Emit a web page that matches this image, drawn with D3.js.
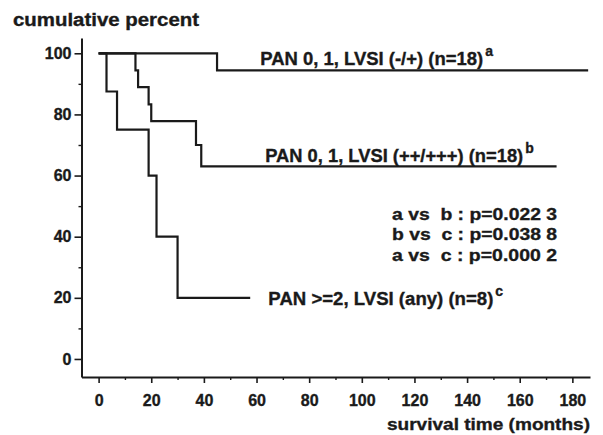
<!DOCTYPE html>
<html><head><meta charset="utf-8">
<script src="https://cdn.jsdelivr.net/npm/d3@7"></script>
<style>
body{margin:0;background:#fff;}
text{font-family:"Liberation Sans",Arial,sans-serif;font-weight:bold;fill:#1a1a1a;stroke:#1a1a1a;stroke-width:0.35px;}
</style></head>
<body><svg id="c" width="603" height="435"></svg>
<script>
// ---- data ----
const groupNames = ["a", "b", "c"];
const groupLabels = ["PAN 0, 1, LVSI (-/+) (n=18)", "PAN 0, 1, LVSI (++/+++) (n=18)", "PAN >=2, LVSI (any) (n=8)"];
// Kaplan-Meier step points: [month, cumulative percent]
const curveA = [[0,100],[45,94.4],[186,94.4]];
const curveB = [[0,100],[14,94.4],[15,88.9],[19,83.3],[20,77.8],[37,70.0],[39,63.0],[174,63.0]];
const curveC = [[0,100],[3,87.5],[7,75.0],[19,60.0],[22,40.0],[30,20.0],[57.6,20.0]];
const pValues = ["a vs  b : p=0.022 3", "b vs  c : p=0.038 8", "a vs  c : p=0.000 2"];
const xTicks = [0,20,40,60,80,100,120,140,160,180];
const xMinor = [10,30,50,70,90,110,130,150,170];
const yTicks = [0,20,40,60,80,100];
const yMinor = [10,30,50,70,90];

const svg = d3.select("#c");
const x = d3.scaleLinear().domain([-6.5, 186.7]).range([81.5, 590]);
const y = d3.scaleLinear().domain([-5.9, 105]).range([377, 38]);
const ink = "#1a1a1a";

// axes
const xAxis = svg.append("g").attr("transform", `translate(0,${y(-5.9)})`)
  .call(d3.axisBottom(x).tickValues(xTicks).tickSize(6).tickPadding(12).tickSizeOuter(0));
const yAxis = svg.append("g").attr("transform", `translate(${x(-6.5)},0)`)
  .call(d3.axisLeft(y).tickValues(yTicks).tickSize(7).tickPadding(3).tickSizeOuter(0));
[xAxis, yAxis].forEach(g => {
  g.select(".domain").attr("stroke", ink).attr("stroke-width", 2);
  g.selectAll(".tick line").attr("stroke", ink).attr("stroke-width", 1.6);
  g.selectAll(".tick text").attr("font-size", 16).attr("fill", ink)
    .attr("font-family", "'Liberation Sans',Arial,sans-serif").attr("font-weight", "bold");
});
// minor ticks
svg.append("g").attr("transform", `translate(0,${y(-5.9)})`)
  .call(d3.axisBottom(x).tickValues(xMinor).tickSize(3).tickFormat("").tickSizeOuter(0))
  .call(g => { g.select(".domain").remove(); g.selectAll("line").attr("stroke", ink).attr("stroke-width", 1.4); });
svg.append("g").attr("transform", `translate(${x(-6.5)},0)`)
  .call(d3.axisLeft(y).tickValues(yMinor).tickSize(3).tickFormat("").tickSizeOuter(0))
  .call(g => { g.select(".domain").remove(); g.selectAll("line").attr("stroke", ink).attr("stroke-width", 1.4); });

// curves
const line = d3.line().x(d => x(d[0])).y(d => y(d[1])).curve(d3.curveStepAfter);
[curveA, curveB, curveC].forEach(c => {
  svg.append("path").datum(c).attr("d", line).attr("fill", "none")
    .attr("stroke", ink).attr("stroke-width", 2.2);
});

// titles
svg.append("text").attr("x", 13).attr("y", 26).attr("font-size", 18)
  .attr("textLength", 186).attr("lengthAdjust", "spacingAndGlyphs").text("cumulative percent");
svg.append("text").attr("x", 590).attr("y", 430).attr("font-size", 17).attr("text-anchor", "end")
  .text("survival time (months)")
  .attr("textLength", 203).attr("lengthAdjust", "spacingAndGlyphs");

// group labels anchored in data space
const labelPos = [[61.4, 96.1, 223], [63.3, 64.5, 258], [64.5, 17.8, 225]];
groupLabels.forEach((t, i) => {
  const [mx, my, w] = labelPos[i];
  const px = x(mx), py = y(my);
  svg.append("text").attr("x", px).attr("y", py).attr("font-size", 18)
    .attr("textLength", w).attr("lengthAdjust", "spacingAndGlyphs").text(t);
  svg.append("text").attr("x", px + w + 2).attr("y", py - 9).attr("font-size", 14).text(groupNames[i]);
});

// p-values
pValues.forEach((t, i) => {
  svg.append("text").attr("x", x(111.5)).attr("y", y(45.5) + i * 20.5).attr("font-size", 17)
    .attr("xml:space", "preserve").style("white-space", "pre")
    .attr("textLength", 165).attr("lengthAdjust", "spacingAndGlyphs").text(t);
});
</script></body></html>
